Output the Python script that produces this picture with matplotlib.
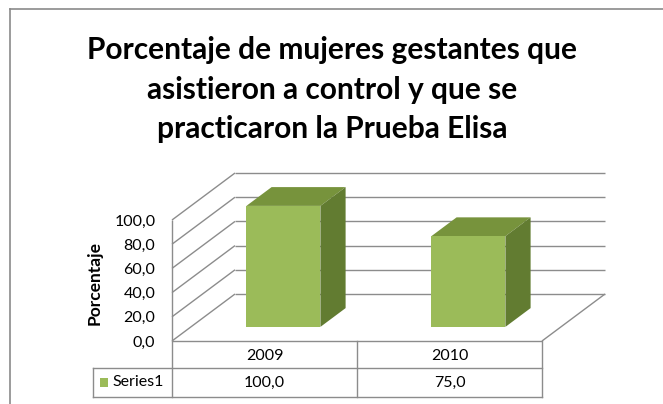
import matplotlib
matplotlib.use("Agg")
import matplotlib.pyplot as plt
from matplotlib.patches import Polygon, Rectangle
from matplotlib.lines import Line2D

# ---- data ----
categories = ["2009", "2010"]
values = [100.0, 75.0]
series_name = "Series1"
yticks = [0, 20, 40, 60, 80, 100]
ytick_labels = ["0,0", "20,0", "40,0", "60,0", "80,0", "100,0"]
value_labels = ["100,0", "75,0"]
title_lines = ["Porcentaje de mujeres gestantes que",
               "asistieron a control y que se",
               "practicaron la Prueba Elisa"]
ylabel = "Porcentaje"

# ---- style ----
FONT = "Lato"
W, H = 663, 404
GRID = "#8c8c8c"
FRONT = "#9bbb59"
TOP = "#77933c"
SIDE = "#627c31"
FS = 11.5

fig = plt.figure(figsize=(W / 100, H / 100), dpi=100)
fig.patch.set_facecolor("white")

def fx(px):
    return px / W

def fy(py):
    return 1 - py / H

# chart border (extends beyond the image on right/bottom)
fig.add_artist(Line2D([fx(10), fx(10)], [fy(9), fy(H + 5)], color="#8a8a8a", lw=1.2))
fig.add_artist(Line2D([fx(10), fx(W + 5)], [fy(9), fy(9)], color="#8a8a8a", lw=1.2))

# front plane box in pixels
FL, FR, FB, FT = 172, 542, 341, 220
ax = fig.add_axes([fx(FL), fy(FB), fx(FR) - fx(FL), fy(FT) - fy(FB)])
ncat = len(categories)
ax.set_xlim(0, ncat)
ax.set_ylim(0, 100)
for s in ax.spines.values():
    s.set_visible(False)
ax.set_xticks([])
ax.set_yticks(yticks, ytick_labels)
ax.tick_params(axis="y", length=0, pad=12, labelsize=FS)
for t in ax.get_yticklabels():
    t.set_fontfamily(FONT)

px_per_cat = (FR - FL) / ncat
px_per_val = (FB - FT) / 100.0
DX = 63 / px_per_cat        # full depth offset in category units
DY = 47 / px_per_val        # full depth offset in value units

def P(x, v, d):
    return (x + d * DX, v + d * DY)

kw = dict(color=GRID, lw=1.0, clip_on=False, solid_capstyle="butt")
# back wall gridlines
for v in yticks:
    a, b = P(0, v, 1), P(ncat, v, 1)
    ax.plot([a[0], b[0]], [a[1], b[1]], zorder=1, **kw)
# side wall: diagonals + front vertical edge
for v in yticks:
    a, b = P(0, v, 0), P(0, v, 1)
    ax.plot([a[0], b[0]], [a[1], b[1]], zorder=1, **kw)
ax.plot([0, 0], [0, 100], zorder=1, **kw)
# floor right edge + front edge
a, b = P(ncat, 0, 0), P(ncat, 0, 1)
ax.plot([a[0], b[0]], [a[1], b[1]], zorder=1, **kw)
ax.plot([0, ncat], [0, 0], zorder=1, **kw)

# bars
bw = 0.4
d0, d1 = 0.3, 0.7
for i, v in enumerate(values):
    xl = i + 0.5 - bw / 2
    xr = i + 0.5 + bw / 2
    top = Polygon([P(xl, v, d0), P(xr, v, d0), P(xr, v, d1), P(xl, v, d1)],
                  closed=True, fc=TOP, ec="none", clip_on=False, zorder=3)
    side = Polygon([P(xr, 0, d0), P(xr, v, d0), P(xr, v, d1), P(xr, 0, d1)],
                   closed=True, fc=SIDE, ec="none", clip_on=False, zorder=3)
    front = Polygon([P(xl, 0, d0), P(xr, 0, d0), P(xr, v, d0), P(xl, v, d0)],
                    closed=True, fc=FRONT, ec="none", clip_on=False, zorder=4)
    for p in (top, side, front):
        ax.add_patch(p)

# data table
row1 = -27 / px_per_val
row2 = -56 / px_per_val
legx = (93 - FL) / px_per_cat
tk = dict(color=GRID, lw=1.0, clip_on=False, zorder=2)
for c in range(ncat + 1):
    ax.plot([c, c], [0, row2], **tk)
ax.plot([legx, ncat], [row1, row1], **tk)
ax.plot([legx, ncat], [row2, row2], **tk)
ax.plot([legx, legx], [row1, row2], **tk)
for i, (cat, lab) in enumerate(zip(categories, value_labels)):
    ax.text(i + 0.5, row1 / 2 - 1.5, cat, ha="center", va="center",
            fontsize=FS, family=FONT, clip_on=False)
    ax.text(i + 0.5, (row1 + row2) / 2, lab, ha="center", va="center",
            fontsize=FS, family=FONT, clip_on=False)
# legend key in table
sq_w = 8 / px_per_cat
sq_h = 9 / px_per_val
ax.add_patch(Rectangle((legx + 7 / px_per_cat, (row1 + row2) / 2 - sq_h / 2), sq_w, sq_h,
                       fc=FRONT, ec="none", clip_on=False))
ax.text(legx + 19 / px_per_cat, (row1 + row2) / 2, series_name, ha="left", va="center",
        fontsize=FS, family=FONT, clip_on=False)

# axis title
fig.text(fx(95), fy(283), ylabel, rotation=90, ha="center", va="center",
         fontsize=12.5, fontweight="bold", family=FONT)

# chart title
for line, yy in zip(title_lines, [50, 90, 129]):
    fig.text(fx(332), fy(yy), line, ha="center", va="center",
             fontsize=21.5, fontweight="bold", family=FONT)

fig.savefig("out.png", dpi=100)
